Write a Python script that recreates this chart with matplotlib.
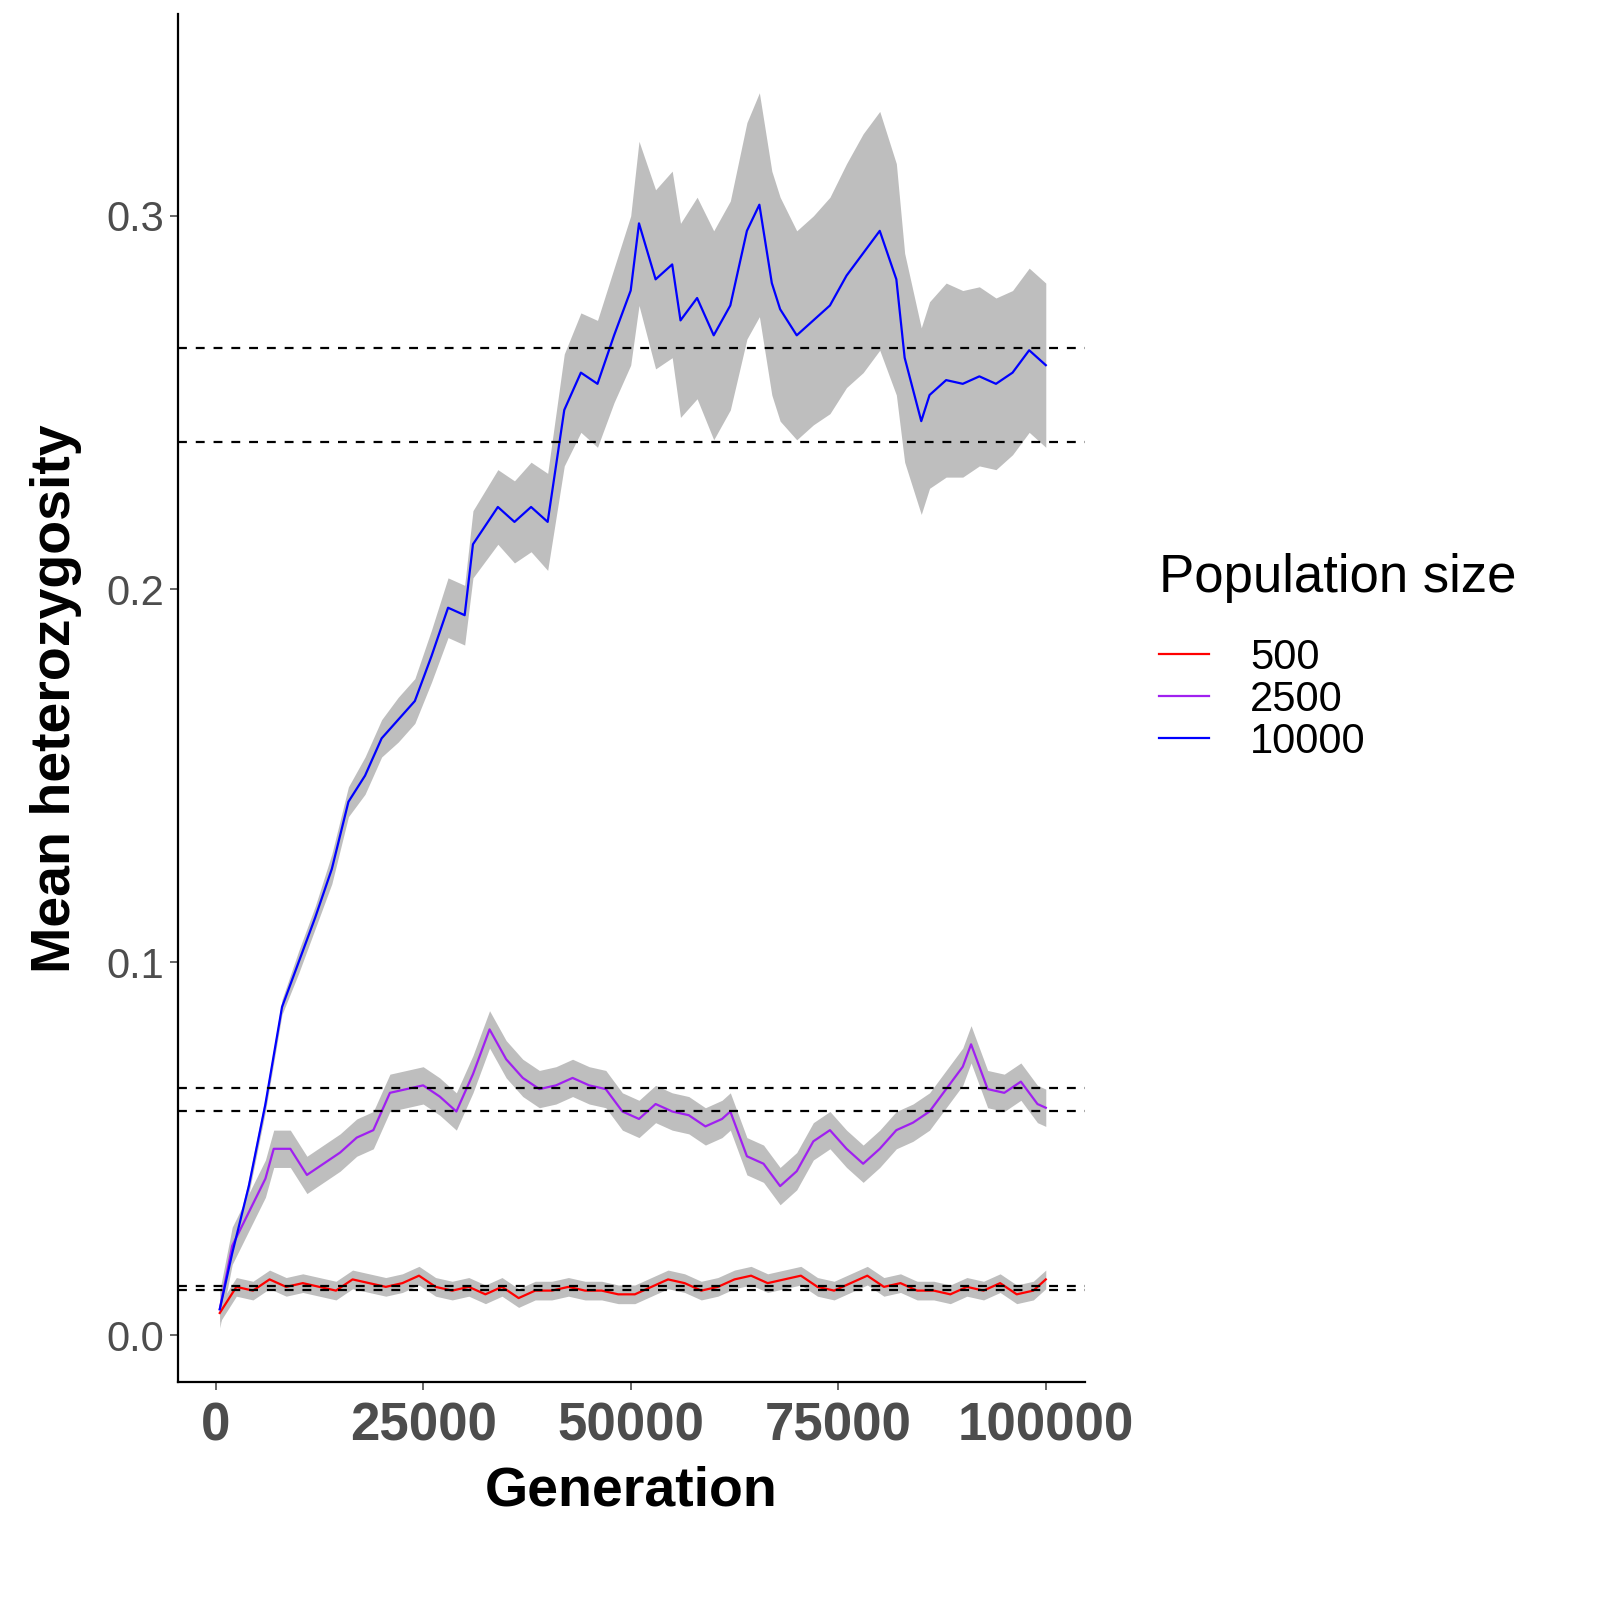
import numpy as np
import matplotlib
matplotlib.use("Agg")
import matplotlib.pyplot as plt

plt.rcParams['font.family'] = ['Liberation Sans', 'DejaVu Sans']

# generation sampling points for each series
gen_big = [500, 2000, 4000, 6000, 8000, 10000, 12000, 14000, 16000, 18000, 20000, 22000, 24000,
           26000, 28000, 30000, 31000, 34000, 36000, 38000, 40000, 42000, 44000, 46000, 48000,
           50000, 51000, 53000, 55000, 56000, 58000, 60000, 62000, 64000, 65500, 67000, 68000,
           70000, 72000, 74000, 76000, 78000, 80000, 82000, 83000, 85000, 86000, 88000, 90000,
           92000, 94000, 96000, 98000, 100000]
het_10000 = [0.007, 0.022, 0.040, 0.062, 0.088, 0.100, 0.112, 0.125, 0.143, 0.150, 0.160, 0.165, 0.170,
             0.182, 0.195, 0.193, 0.212, 0.222, 0.218, 0.222, 0.218, 0.248, 0.258, 0.255, 0.268,
             0.280, 0.298, 0.283, 0.287, 0.272, 0.278, 0.268, 0.276, 0.296, 0.303, 0.282, 0.275,
             0.268, 0.272, 0.276, 0.284, 0.290, 0.296, 0.283, 0.262, 0.245, 0.252, 0.256, 0.255,
             0.257, 0.255, 0.258, 0.264, 0.260]
hw_10000 = [0.001, 0.001, 0.002, 0.002, 0.002, 0.003, 0.003, 0.004, 0.004, 0.005, 0.005, 0.006, 0.006,
            0.007, 0.008, 0.008, 0.009, 0.010, 0.011, 0.012, 0.013, 0.015, 0.016, 0.017, 0.018,
            0.020, 0.022, 0.024, 0.025, 0.026, 0.027, 0.028, 0.028, 0.029, 0.030, 0.030, 0.030,
            0.028, 0.028, 0.029, 0.030, 0.032, 0.032, 0.031, 0.028, 0.025, 0.025, 0.026, 0.025,
            0.024, 0.023, 0.022, 0.022, 0.022]

gen_mid = [500, 2000, 4000, 6000, 7000, 9000, 11000, 13000, 15000, 17000, 19000, 21000, 23000,
           25000, 27000, 29000, 31000, 33000, 35000, 37000, 39000, 41000, 43000, 45000, 47000,
           49000, 51000, 53000, 55000, 57000, 59000, 61000, 62000, 64000, 66000, 68000, 70000,
           72000, 74000, 76000, 78000, 80000, 82000, 84000, 86000, 88000, 90000, 91000, 93000,
           95000, 97000, 99000, 100000]
het_2500 = [0.007, 0.024, 0.033, 0.042, 0.050, 0.050, 0.043, 0.046, 0.049, 0.053, 0.055, 0.065, 0.066,
            0.067, 0.064, 0.060, 0.070, 0.082, 0.074, 0.069, 0.066, 0.067, 0.069, 0.067, 0.066,
            0.060, 0.058, 0.062, 0.060, 0.059, 0.056, 0.058, 0.060, 0.048, 0.046, 0.040, 0.044,
            0.052, 0.055, 0.050, 0.046, 0.050, 0.055, 0.057, 0.060, 0.066, 0.072, 0.078, 0.066,
            0.065, 0.068, 0.062, 0.061]

gen_small = [500, 2500, 4500, 6500, 8500, 10500, 12500, 14500, 16500, 18500, 20500, 22500, 24500,
             26500, 28500, 30500, 32500, 34500, 36500, 38500, 40500, 42500, 44500, 46500, 48500,
             50500, 52500, 54500, 56500, 58500, 60500, 62500, 64500, 66500, 68500, 70500, 72500,
             74500, 76500, 78500, 80500, 82500, 84500, 86500, 88500, 90500, 92500, 94500, 96500,
             98500, 100000]
het_500 = [0.006, 0.013, 0.012, 0.015, 0.013, 0.014, 0.013, 0.012, 0.015, 0.014, 0.013, 0.014, 0.016,
           0.013, 0.012, 0.013, 0.011, 0.013, 0.010, 0.012, 0.012, 0.013, 0.012, 0.012, 0.011,
           0.011, 0.013, 0.015, 0.014, 0.012, 0.013, 0.015, 0.016, 0.014, 0.015, 0.016, 0.013,
           0.012, 0.014, 0.016, 0.013, 0.014, 0.012, 0.012, 0.011, 0.013, 0.012, 0.014, 0.011,
           0.012, 0.015]

dashed_levels = [0.2646, 0.2394, 0.0662, 0.0600, 0.0131, 0.0121]

fig = plt.figure(figsize=(16, 16), dpi=100)
ax = fig.add_axes([0.111, 0.136, 0.567, 0.855])

band = "#BEBEBE"
ax.fill_between(gen_small, np.array(het_500) - 0.0025, np.array(het_500) + 0.0025, color=band, lw=0)
ax.fill_between(gen_mid, np.array(het_2500) - 0.005, np.array(het_2500) + 0.005, color=band, lw=0)
ax.fill_between(gen_big, np.array(het_10000) - np.array(hw_10000),
                np.array(het_10000) + np.array(hw_10000), color=band, lw=0)

ax.plot(gen_small, het_500, color="red", lw=1.6, label="500")
ax.plot(gen_mid, het_2500, color="#A020F0", lw=1.6, label="2500")
ax.plot(gen_big, het_10000, color="blue", lw=1.6, label="10000")

for lvl in dashed_levels:
    ax.axhline(lvl, color="black", ls=(0, (4, 4)), lw=1.6)

ax.set_xlim(-4578, 104700)
ax.set_ylim(-0.0126, 0.354)
ax.set_xticks([0, 25000, 50000, 75000, 100000])
ax.set_yticks([0.0, 0.1, 0.2, 0.3])
ax.set_yticklabels(["0.0", "0.1", "0.2", "0.3"])
ax.tick_params(axis="x", labelsize=38, colors="#4D4D4D", length=6, width=1.2, pad=8)
ax.tick_params(axis="y", labelsize=30, colors="#4D4D4D", length=6, width=1.2)
for lab in ax.get_xticklabels():
    lab.set_fontweight("bold")
for s in ["top", "right"]:
    ax.spines[s].set_visible(False)
for s in ["left", "bottom"]:
    ax.spines[s].set_linewidth(1.6)

ax.set_xlabel("Generation", fontsize=40, fontweight="bold", labelpad=10)
ax.set_ylabel("Mean heterozygosity", fontsize=40, fontweight="bold", labelpad=18)

leg = ax.legend(title="Population size", loc="center left", bbox_to_anchor=(1.04, 0.53),
                frameon=False, fontsize=30, title_fontsize=38, handlelength=1.2,
                handletextpad=1.0, labelspacing=0.05, alignment="left")
leg.get_title().set_position((0, 0))
leg._legend_box.sep = 25

fig.savefig("out.png", dpi=100)
